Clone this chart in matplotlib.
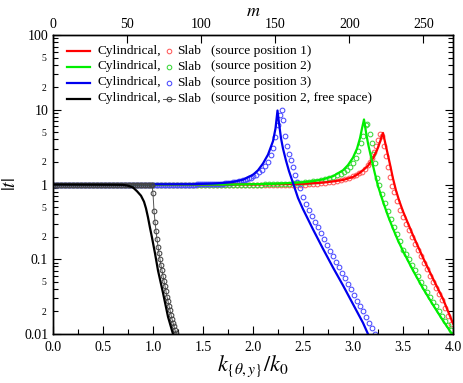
import matplotlib
matplotlib.use('Agg')
import matplotlib.pyplot as plt
from matplotlib.lines import Line2D
from matplotlib.ticker import FixedLocator, FuncFormatter

plt.rcParams['font.family'] = ['Liberation Serif', 'DejaVu Serif']
plt.rcParams['mathtext.fontset'] = 'stix'

# ---- data ----
# cylindrical results (lines)
red_cyl_k = [0.00, 2.00, 2.50, 2.70, 2.80, 2.90, 3.00, 3.05, 3.10, 3.15, 3.20, 3.24, 3.27, 3.30,
             3.32, 3.34, 3.37, 3.40, 3.43, 3.46, 3.50, 3.60, 3.70, 3.80, 3.90, 4.00]
red_cyl_t = [1.00, 1.00, 1.02, 1.06, 1.10, 1.15, 1.26, 1.38, 1.55, 1.78, 2.24, 2.88, 3.72, 4.90,
             3.72, 2.82, 1.86, 1.20, 0.832, 0.617, 0.437, 0.209, 0.105, 0.0550, 0.0295, 0.0138]

green_cyl_k = [0.00, 1.80, 2.20, 2.40, 2.50, 2.60, 2.70, 2.80, 2.90, 2.95, 3.00, 3.04, 3.07, 3.09, 3.11,
               3.13, 3.15, 3.19, 3.22, 3.25, 3.30, 3.35, 3.40, 3.45, 3.50, 3.60, 3.70, 3.80, 3.90, 3.99]
green_cyl_t = [1.00, 1.00, 1.02, 1.05, 1.07, 1.11, 1.17, 1.29, 1.55, 1.82, 2.29, 3.02, 4.17, 5.62, 7.41,
               5.01, 3.55, 2.04, 1.38, 0.955, 0.589, 0.380, 0.257, 0.178, 0.129, 0.0708, 0.0407, 0.0245,
               0.0151, 0.0100]

blue_cyl_k = [0.00, 1.40, 1.60, 1.70, 1.80, 1.90, 2.00, 2.05, 2.10, 2.15, 2.20, 2.225, 2.245,
              2.26, 2.28, 2.30, 2.33, 2.36, 2.40, 2.45, 2.50, 2.60, 2.70, 2.80, 2.90, 3.00, 3.10, 3.15]
blue_cyl_t = [1.00, 1.01, 1.03, 1.05, 1.08, 1.16, 1.35, 1.55, 1.91, 2.51, 3.80, 5.62, 9.77,
              6.61, 4.17, 3.02, 2.09, 1.51, 1.05, 0.661, 0.468, 0.251, 0.138, 0.0776, 0.0447, 0.0251,
              0.0141, 0.0100]

free_cyl_k = [0.00, 0.60, 0.70, 0.75, 0.80, 0.84, 0.88, 0.91, 0.93, 0.95, 0.97, 0.99, 1.02, 1.05,
              1.10, 1.15, 1.20]
free_cyl_t = [1.00, 0.993, 0.989, 0.966, 0.912, 0.813, 0.708, 0.589, 0.479, 0.363, 0.263, 0.195,
              0.120, 0.0708, 0.0355, 0.0170, 0.0100]

# slab results (circles)
red_slab_k = [0.00, 0.04, 0.08, 0.12, 0.16, 0.20, 0.24, 0.28, 0.32, 0.36, 0.40, 0.44, 0.48, 0.52,
              0.56, 0.60, 0.64, 0.68, 0.72, 0.76, 0.80, 0.84, 0.88, 0.92, 0.96, 1.00, 1.04, 1.08,
              1.12, 1.16, 1.20, 1.24, 1.28, 1.32, 1.36, 1.40, 1.44, 1.48, 1.52, 1.56, 1.60, 1.64,
              1.68, 1.72, 1.76, 1.80, 1.84, 1.88, 1.92, 1.96, 2.00, 2.04, 2.08, 2.12, 2.16, 2.20,
              2.24, 2.28, 2.32, 2.36, 2.40, 2.44, 2.48, 2.52, 2.56, 2.60, 2.64, 2.68, 2.72, 2.76,
              2.80, 2.84, 2.88, 2.92, 2.96, 3.00, 3.03, 3.06, 3.09, 3.12, 3.15, 3.17, 3.19, 3.21,
              3.23, 3.25, 3.27, 3.29, 3.31, 3.33, 3.35, 3.37, 3.39, 3.41, 3.44, 3.47, 3.50, 3.53,
              3.56, 3.59, 3.62, 3.65, 3.68, 3.71, 3.74, 3.77, 3.80, 3.83, 3.86, 3.89, 3.92, 3.95, 3.98]
red_slab_t = [1.00, 1.00, 1.00, 1.00, 1.00, 1.00, 1.00, 1.00, 1.00, 1.00, 1.00, 1.00, 1.00, 1.00,
              1.00, 1.00, 1.00, 1.00, 1.00, 1.00, 1.00, 1.00, 1.00, 1.00, 1.00, 1.00, 1.00, 1.00,
              1.00, 1.00, 1.00, 1.00, 1.00, 1.00, 1.00, 1.00, 1.00, 1.00, 1.00, 1.00, 1.00, 1.00,
              1.00, 1.00, 1.00, 1.00, 1.00, 1.00, 1.00, 1.00, 1.00, 1.00, 1.00, 1.00, 1.00, 1.00,
              1.00, 1.00, 1.00, 1.00, 1.00, 1.00, 1.00, 1.00, 1.01, 1.02, 1.03, 1.04, 1.05, 1.07,
              1.09, 1.11, 1.14, 1.18, 1.23, 1.29, 1.35, 1.41, 1.48, 1.62, 1.82, 1.98, 2.24, 2.69,
              3.24, 3.98, 4.79, 4.47, 3.31, 2.40, 1.74, 1.26, 0.955, 0.794, 0.603, 0.457, 0.363, 0.295,
              0.245, 0.200, 0.162, 0.132, 0.110, 0.0891, 0.0741, 0.0603, 0.0501, 0.0417, 0.0347,
              0.0282, 0.0224, 0.0174, 0.0135]

green_slab_k = [0.00, 0.04, 0.08, 0.12, 0.16, 0.20, 0.24, 0.28, 0.32, 0.36, 0.40, 0.44, 0.48, 0.52,
                0.56, 0.60, 0.64, 0.68, 0.72, 0.76, 0.80, 0.84, 0.88, 0.92, 0.96, 1.00, 1.04, 1.08,
                1.12, 1.16, 1.20, 1.24, 1.28, 1.32, 1.36, 1.40, 1.44, 1.48, 1.52, 1.56, 1.60, 1.64,
                1.68, 1.72, 1.76, 1.80, 1.84, 1.88, 1.92, 1.96, 2.00, 2.04, 2.08, 2.12, 2.16, 2.20,
                2.24, 2.28, 2.32, 2.36, 2.40, 2.44, 2.48, 2.52, 2.56, 2.60, 2.64, 2.68, 2.72, 2.76,
                2.80, 2.84, 2.88, 2.91, 2.94, 2.97, 3.00, 3.03, 3.05, 3.08, 3.10, 3.13, 3.14, 3.17,
                3.19, 3.20, 3.22, 3.24, 3.26, 3.29, 3.32, 3.35, 3.38, 3.41, 3.44, 3.47, 3.50, 3.53,
                3.56, 3.59, 3.62, 3.65, 3.68, 3.71, 3.74, 3.77, 3.80, 3.83, 3.86, 3.89, 3.92, 3.95, 3.98]
green_slab_t = [1.00, 1.00, 1.00, 1.00, 1.00, 1.00, 1.00, 1.00, 1.00, 1.00, 1.00, 1.00, 1.00, 1.00,
                1.00, 1.00, 1.00, 1.00, 1.00, 1.00, 1.00, 1.00, 1.00, 1.00, 1.00, 1.00, 1.00, 1.00,
                1.00, 1.00, 1.00, 1.00, 1.00, 1.00, 1.00, 1.00, 1.00, 1.00, 1.00, 1.00, 1.00, 1.00,
                1.00, 1.00, 1.00, 1.00, 1.00, 1.00, 1.00, 1.00, 1.00, 1.00, 1.00, 1.01, 1.01, 1.01,
                1.01, 1.02, 1.02, 1.03, 1.04, 1.05, 1.06, 1.07, 1.08, 1.10, 1.12, 1.14, 1.17, 1.21,
                1.26, 1.32, 1.40, 1.48, 1.58, 1.70, 1.91, 2.29, 2.82, 3.55, 4.47, 6.17, 6.46, 4.79,
                3.55, 2.57, 1.91, 1.23, 0.977, 0.741, 0.562, 0.437, 0.347, 0.269, 0.219, 0.174, 0.135,
                0.117, 0.100, 0.0832, 0.0708, 0.0603, 0.0501, 0.0427, 0.0363, 0.0316, 0.0269, 0.0234,
                0.0200, 0.0174, 0.0151, 0.0132, 0.0112]

blue_slab_k = [0.00, 0.02, 0.04, 0.06, 0.08, 0.10, 0.12, 0.14, 0.16, 0.18, 0.20, 0.22, 0.24, 0.26,
               0.28, 0.30, 0.32, 0.34, 0.36, 0.38, 0.40, 0.42, 0.44, 0.46, 0.48, 0.50, 0.52, 0.54,
               0.56, 0.58, 0.60, 0.62, 0.64, 0.66, 0.68, 0.70, 0.72, 0.74, 0.76, 0.78, 0.80, 0.82,
               0.84, 0.86, 0.88, 0.90, 0.92, 0.94, 0.96, 0.98, 1.00, 1.02, 1.04, 1.06, 1.08, 1.10,
               1.12, 1.14, 1.16, 1.18, 1.20, 1.22, 1.24, 1.26, 1.28, 1.30, 1.32, 1.34, 1.36, 1.38,
               1.40, 1.42, 1.44, 1.46, 1.48, 1.50, 1.52, 1.54, 1.56, 1.58, 1.60, 1.62, 1.64, 1.66,
               1.68, 1.70, 1.72, 1.74, 1.76, 1.78, 1.80, 1.82, 1.84, 1.86, 1.88, 1.90, 1.92, 1.94,
               1.96, 1.98, 2.00, 2.03, 2.06, 2.09, 2.12, 2.15,
               2.18, 2.20, 2.22, 2.25, 2.27, 2.29, 2.30, 2.32, 2.34, 2.36, 2.38, 2.40, 2.42, 2.44,
               2.47, 2.50, 2.53, 2.56, 2.59, 2.62, 2.65, 2.68, 2.71, 2.74, 2.77, 2.80, 2.83, 2.86,
               2.89, 2.92, 2.95, 2.98, 3.01, 3.04, 3.07, 3.10, 3.13, 3.16, 3.19, 3.22]
blue_slab_t = [1.00, 1.00, 1.00, 1.00, 1.00, 1.00, 1.00, 1.00, 1.00, 1.00, 1.00, 1.00, 1.00, 1.00,
               1.00, 1.00, 1.00, 1.00, 1.00, 1.00, 1.00, 1.00, 1.00, 1.00, 1.00, 1.00, 1.00, 1.00,
               1.00, 1.00, 1.00, 1.00, 1.00, 1.00, 1.00, 1.00, 1.00, 1.00, 1.00, 1.00, 1.00, 1.00,
               1.00, 1.00, 1.00, 1.00, 1.00, 1.00, 1.00, 1.00, 1.00, 1.00, 1.00, 1.00, 1.00, 1.00,
               1.00, 1.00, 1.00, 1.00, 1.00, 1.00, 1.00, 1.00, 1.00, 1.00, 1.00, 1.00, 1.00, 1.00,
               1.00, 1.00, 1.01, 1.01, 1.01, 1.01, 1.01, 1.01, 1.02, 1.02, 1.02, 1.02, 1.02, 1.03,
               1.03, 1.03, 1.04, 1.04, 1.05, 1.06, 1.07, 1.08, 1.09, 1.10, 1.12, 1.14, 1.16, 1.18,
               1.21, 1.24, 1.28, 1.35, 1.45, 1.58, 1.76, 2.02,
               2.45, 3.10, 4.30, 6.30, 8.60, 9.80, 7.40, 4.50, 3.30, 2.57, 2.10, 1.70, 1.32, 1.07,
               0.91, 0.69, 0.55, 0.457, 0.38, 0.316, 0.27, 0.224, 0.186, 0.155, 0.130, 0.110, 0.092,
               0.078, 0.066, 0.056, 0.047, 0.040, 0.0335, 0.028, 0.0237, 0.020, 0.0168, 0.0141,
               0.0119, 0.0100]

free_slab_k = [0.00, 0.02, 0.04, 0.06, 0.08, 0.10, 0.12, 0.14, 0.16, 0.18, 0.20, 0.22, 0.24, 0.26,
               0.28, 0.30, 0.32, 0.34, 0.36, 0.38, 0.40, 0.42, 0.44, 0.46, 0.48, 0.50, 0.52, 0.54,
               0.56, 0.58, 0.60, 0.62, 0.64, 0.66, 0.68, 0.70, 0.72, 0.74, 0.76, 0.78, 0.80, 0.82,
               0.84, 0.86, 0.88, 0.90, 0.92, 0.94, 0.96, 0.98, 0.99, 1.00, 1.01,
               1.02, 1.03, 1.04, 1.05, 1.06, 1.07, 1.08, 1.09, 1.10, 1.11, 1.12, 1.13, 1.14, 1.15,
               1.16, 1.17, 1.18, 1.19, 1.20, 1.21, 1.22, 1.23, 1.24]
free_slab_t = [1.00, 1.00, 1.00, 1.00, 1.00, 1.00, 1.00, 1.00, 1.00, 1.00, 1.00, 1.00, 1.00, 1.00,
               1.00, 1.00, 1.00, 1.00, 1.00, 1.00, 1.00, 1.00, 1.00, 1.00, 1.00, 1.00, 1.00, 1.00,
               1.00, 1.00, 1.00, 1.00, 1.00, 1.00, 1.00, 1.00, 1.00, 1.00, 1.00, 1.00, 1.00, 1.00,
               1.00, 1.00, 1.00, 1.00, 1.00, 1.00, 1.00, 1.00, 1.00, 0.759, 0.447,
               0.316, 0.240, 0.186, 0.148, 0.120, 0.100, 0.0832, 0.0708, 0.0603, 0.0513, 0.0437,
               0.0372, 0.0316, 0.0275, 0.0240, 0.0209, 0.0182, 0.0158, 0.0141, 0.0126, 0.0112,
               0.0102, 0.0093]

m_max = 270  # top axis: angular order m over the same range
labels = ['(source position 1)', '(source position 2)', '(source position 3)',
          '(source position 2, free space)']

# ---- figure ----
W, H = 463, 383
fig = plt.figure(figsize=(W / 100, H / 100), dpi=100)
ax = fig.add_axes([53 / W, 1 - 334 / H, 400 / W, 299 / H])

series = [
    (red_cyl_k, red_cyl_t, red_slab_k, red_slab_t, '#ff0000', '#ff5a5a'),
    (green_cyl_k, green_cyl_t, green_slab_k, green_slab_t, '#00ee00', '#3ad83a'),
    (blue_cyl_k, blue_cyl_t, blue_slab_k, blue_slab_t, '#0000ee', '#4a4aff'),
]
for ck, ct, sk, st, lc, mc in series:
    ax.plot(sk, st, ls='none', marker='o', ms=3.4, mfc='none', mec=mc, mew=0.75, zorder=2)
    ax.plot(ck, ct, color=lc, lw=1.6, zorder=3)

ax.plot(free_slab_k, free_slab_t, color='#555555', lw=0.7, marker='o', ms=3.4, mfc='none',
        mec='#444444', mew=0.75, zorder=4)
ax.plot(free_cyl_k, free_cyl_t, color='black', lw=1.6, zorder=5)

ax.set_yscale('log')
ax.set_xlim(0, 4)
ax.set_ylim(0.01, 100)

ax.xaxis.set_major_locator(FixedLocator([0, 0.5, 1, 1.5, 2, 2.5, 3, 3.5, 4]))
ax.xaxis.set_minor_locator(FixedLocator([0.25, 0.75, 1.25, 1.75, 2.25, 2.75, 3.25, 3.75]))
ax.xaxis.set_major_formatter(FuncFormatter(lambda v, p: '%.1f' % v))

dec = [0.01, 0.1, 1, 10]
ytick_text = {0.01: '0.01', 0.1: '0.1', 1: '1', 10: '10', 100: '100'}
ax.yaxis.set_major_locator(FixedLocator([0.01, 0.1, 1, 10, 100]))
ax.yaxis.set_minor_locator(FixedLocator([d * j for d in dec for j in range(2, 10)]))
ax.yaxis.set_major_formatter(FuncFormatter(lambda v, p: ytick_text.get(round(v, 2), '')))


def minor_label(v, p):
    mant = round(float(f'{v:e}'.split('e')[0]))
    return str(mant) if mant in (2, 5) else ''


ax.yaxis.set_minor_formatter(FuncFormatter(minor_label))

ax.tick_params(which='both', direction='in', top=False, right=True, labelsize=10)
ax.tick_params(which='major', length=6, width=0.8)
ax.tick_params(which='minor', length=3.5, width=0.8)
ax.tick_params(axis='y', which='minor', labelsize=7, pad=5)
ax.tick_params(axis='x', which='major', pad=5)

ax.set_xlabel(r'$k_{\{\theta,y\}}/k_0$', fontsize=16, labelpad=0)
ax.set_ylabel(r'$|t|$', fontsize=14)
ax.yaxis.set_label_coords(-0.085, 0.5)

ax2 = ax.twiny()
ax2.set_xlim(0, m_max)
ax2.xaxis.set_major_locator(FixedLocator([0, 50, 100, 150, 200, 250]))
ax2.tick_params(direction='in', length=6, width=0.8, labelsize=10, pad=3)
ax2.set_xlabel(r'$m$', fontsize=13, labelpad=1)

for a in (ax, ax2):
    for s in a.spines.values():
        s.set_linewidth(1.0)

# ---- hand-made legend ----
rows = [51, 66.5, 82.5, 98.5]
colors = [('#ff0000', '#ff5a5a'), ('#00ee00', '#3ad83a'), ('#0000ee', '#4a4aff'), ('black', '#444444')]
for i, y in enumerate(rows):
    yf = 1 - y / H
    lc, mc = colors[i]
    fig.add_artist(Line2D([67 / W, 90 / W], [yf, yf], color=lc, lw=1.6))
    if i == 3:
        fig.add_artist(Line2D([163 / W, 175 / W], [yf, yf], color='#555555', lw=0.7))
    fig.add_artist(Line2D([169 / W], [yf], marker='o', ms=3.3, mfc='none', mec=mc, mew=0.75))
    fig.text(97 / W, yf, 'Cylindrical,', fontsize=9.6, va='center')
    fig.text(177 / W, yf, 'Slab', fontsize=9.6, va='center')
    fig.text(211 / W, yf, labels[i], fontsize=9.6, va='center')

fig.savefig('out.png', dpi=100)
